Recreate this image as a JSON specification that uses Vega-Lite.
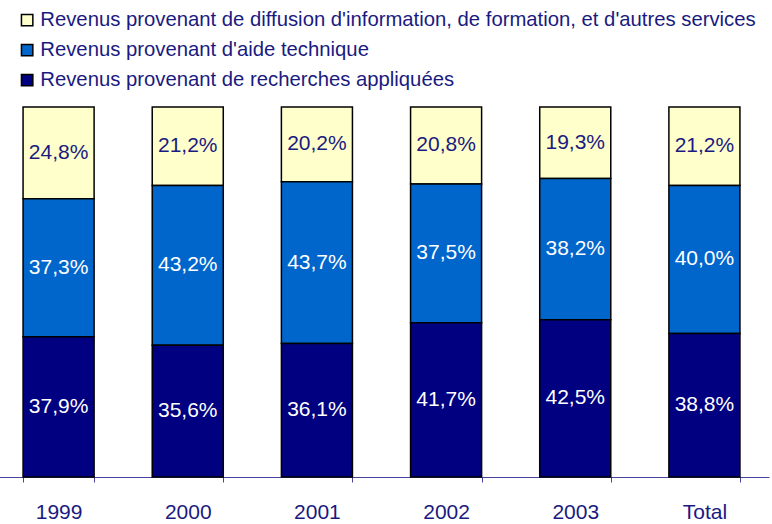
{
  "$schema": "https://vega.github.io/schema/vega-lite/v6.json",
  "autosize": {"type": "none"},
  "width": 775,
  "height": 370,
  "padding": {"left": -6, "top": 107, "right": 3, "bottom": 47},
  "background": "white",
  "data": {
    "values": [
      {"annee": "1999", "serie": "Revenus provenant de diffusion d'information, de formation, et d'autres services", "k": 1, "v": 24.8},
      {"annee": "1999", "serie": "Revenus provenant d'aide technique", "k": 2, "v": 37.3},
      {"annee": "1999", "serie": "Revenus provenant de recherches appliquées", "k": 3, "v": 37.9},
      {"annee": "2000", "serie": "Revenus provenant de diffusion d'information, de formation, et d'autres services", "k": 1, "v": 21.2},
      {"annee": "2000", "serie": "Revenus provenant d'aide technique", "k": 2, "v": 43.2},
      {"annee": "2000", "serie": "Revenus provenant de recherches appliquées", "k": 3, "v": 35.6},
      {"annee": "2001", "serie": "Revenus provenant de diffusion d'information, de formation, et d'autres services", "k": 1, "v": 20.2},
      {"annee": "2001", "serie": "Revenus provenant d'aide technique", "k": 2, "v": 43.7},
      {"annee": "2001", "serie": "Revenus provenant de recherches appliquées", "k": 3, "v": 36.1},
      {"annee": "2002", "serie": "Revenus provenant de diffusion d'information, de formation, et d'autres services", "k": 1, "v": 20.8},
      {"annee": "2002", "serie": "Revenus provenant d'aide technique", "k": 2, "v": 37.5},
      {"annee": "2002", "serie": "Revenus provenant de recherches appliquées", "k": 3, "v": 41.7},
      {"annee": "2003", "serie": "Revenus provenant de diffusion d'information, de formation, et d'autres services", "k": 1, "v": 19.3},
      {"annee": "2003", "serie": "Revenus provenant d'aide technique", "k": 2, "v": 38.2},
      {"annee": "2003", "serie": "Revenus provenant de recherches appliquées", "k": 3, "v": 42.5},
      {"annee": "Total", "serie": "Revenus provenant de diffusion d'information, de formation, et d'autres services", "k": 1, "v": 21.2},
      {"annee": "Total", "serie": "Revenus provenant d'aide technique", "k": 2, "v": 40.0},
      {"annee": "Total", "serie": "Revenus provenant de recherches appliquées", "k": 3, "v": 38.8}
    ]
  },
  "transform": [
    {"calculate": "replace(format(datum.v, '.1f'), '.', ',') + '%'", "as": "lbl"}
  ],
  "encoding": {
    "x": {
      "field": "annee", "type": "nominal", "sort": null,
      "scale": {"paddingInner": 0.45, "paddingOuter": 0.225},
      "axis": {
        "title": null, "labelAngle": 0, "tickBand": "extent",
        "domainColor": "#4444a0", "tickColor": "#4444a0", "tickSize": 5,
        "labelColor": "#1a1a80", "labelFontSize": 21, "labelFont": "Liberation Sans Narrow, Arial Narrow, Liberation Sans, sans-serif",
        "labelPadding": 19
      }
    },
    "y": {
      "field": "v", "type": "quantitative", "stack": "zero",
      "scale": {"domain": [0, 100], "nice": false},
      "axis": null
    },
    "order": {"field": "k", "sort": "descending"}
  },
  "layer": [
    {
      "mark": {"type": "bar", "stroke": "black", "strokeWidth": 1.5},
      "encoding": {
        "color": {
          "field": "serie", "type": "nominal",
          "scale": {
            "domain": ["Revenus provenant de diffusion d'information, de formation, et d'autres services", "Revenus provenant d'aide technique", "Revenus provenant de recherches appliquées"],
            "range": ["#ffffcc", "#0066cc", "#000080"]
          },
          "legend": {
            "title": null, "orient": "none", "legendX": 23, "legendY": -97,
            "padding": 0, "rowPadding": 9, "symbolType": "square", "symbolSize": 130,
            "symbolStrokeColor": "black", "symbolStrokeWidth": 1.5, "symbolOpacity": 1,
            "labelFontSize": 20.3, "labelColor": "#1a1a80", "labelFont": "Liberation Sans Narrow, Arial Narrow, Liberation Sans, sans-serif",
            "labelOffset": 3, "labelLimit": 800
          }
        }
      }
    },
    {
      "mark": {"type": "text", "fontSize": 21, "font": "Liberation Sans Narrow, Arial Narrow, Liberation Sans, sans-serif", "baseline": "middle"},
      "encoding": {
        "y": {"field": "v", "type": "quantitative", "stack": "zero", "bandPosition": 0.5},
        "text": {"field": "lbl"},
        "color": {
          "condition": {"test": "datum.k == 1", "value": "#1a1a80"},
          "value": "white"
        }
      }
    }
  ],
  "config": {"view": {"stroke": null}}
}
